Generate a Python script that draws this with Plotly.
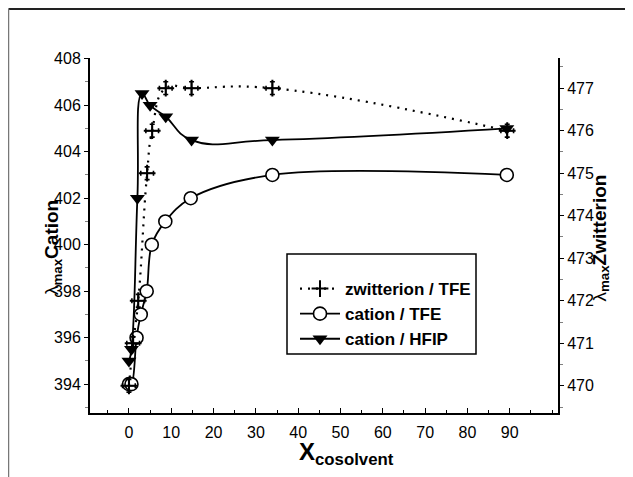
import plotly.graph_objects as go

# ---- data ----
zw_x = [0, 1.0, 2.2, 4.3, 5.5, 8.7, 14.8, 33.9, 89.4]
zw_y = [470.0, 471.0, 472.0, 475.0, 476.0, 477.0, 477.0, 477.0, 476.0]
zw_ex = [1.5] * len(zw_x)
zw_ey = [0.15] * len(zw_x)

tfe_x = [0, 0.6, 1.8, 2.8, 4.2, 5.4, 8.6, 14.6, 33.9, 89.3]
tfe_y = [394.0, 394.0, 396.0, 397.0, 398.0, 400.0, 401.0, 402.0, 403.0, 403.0]

hfip_x = [0, 0.6, 2.0, 3.1, 5.0, 8.7, 14.8, 33.9, 89.3]
hfip_y = [395.0, 395.5, 402.0, 406.5, 406.0, 405.5, 404.5, 404.5, 405.0]

x_ticks = [0, 10, 20, 30, 40, 50, 60, 70, 80, 90]
left_ticks = [394, 396, 398, 400, 402, 404, 406, 408]
right_ticks = [470, 471, 472, 473, 474, 475, 476, 477]

FONT = "Liberation Sans, Arial, sans-serif"

# page body has an 8px margin: work in figure coordinates = page coordinates - 8
OFF = 8
W, H = 633 - OFF, 477 - OFF
PL, PR, PT, PB = 90, 558, 58, 413  # plot area in page pixels
PW, PH = PR - PL, PB - PT


def px(x):
    return (x - PL) / PW


def py(y):
    return (PB - y) / PH


fig = go.Figure()

fig.add_trace(go.Scatter(
    x=zw_x, y=zw_y, yaxis="y2", name="<b>zwitterion / TFE</b>",
    mode="lines+markers", line=dict(color="black", width=2.2, dash="2px,6px", shape="spline", smoothing=1.3),
    marker=dict(symbol="cross-thin", size=12, line=dict(color="black", width=2)),
    error_x=dict(type="data", array=zw_ex, color="black", thickness=1.6, width=2.5),
    error_y=dict(type="data", array=zw_ey, color="black", thickness=1.6, width=2.5),
))

fig.add_trace(go.Scatter(
    x=tfe_x, y=tfe_y, name="<b>cation / TFE</b>",
    mode="lines+markers", line=dict(color="black", width=1.8, shape="spline", smoothing=1.0),
    marker=dict(symbol="circle", size=13, color="white", line=dict(color="black", width=1.6)),
))

fig.add_trace(go.Scatter(
    x=hfip_x, y=hfip_y, name="<b>cation / HFIP</b>",
    mode="lines+markers", line=dict(color="black", width=1.8, shape="spline", smoothing=1.3),
    marker=dict(symbol="triangle-down", size=13, color="black", line=dict(color="black", width=0)),
))

axis_common = dict(showgrid=False, zeroline=False, showline=True, linecolor="black", linewidth=2,
                   tickfont=dict(family=FONT, size=16, color="black"), tickcolor="black")

fig.update_layout(
    width=W, height=H,
    margin=dict(l=PL - OFF, r=W - (PR - OFF), t=PT - OFF, b=H - (PB - OFF), pad=0),
    paper_bgcolor="white", plot_bgcolor="white",
    font=dict(family=FONT, color="black"),
    showlegend=True,
    legend=dict(x=px(295), y=py(271), xanchor="left", yanchor="top",
                bgcolor="rgba(0,0,0,0)", borderwidth=0,
                font=dict(family=FONT, size=17, color="black"),
                tracegroupgap=0, itemwidth=40),
    xaxis=dict(axis_common, range=[-9.2, 101.4], tickvals=x_ticks, ticks="inside", ticklen=5, tickwidth=1,
               ticklabelstandoff=4,
               minor=dict(dtick=5, tick0=0, ticks="inside", ticklen=3, tickcolor="black")),
    yaxis=dict(axis_common, range=[392.76, 408.03], tickvals=left_ticks, ticks="outside", ticklen=4, tickwidth=1,
               minor=dict(dtick=1, tick0=394, ticks="outside", ticklen=3, tickcolor="gray")),
    yaxis2=dict(axis_common, range=[469.36, 477.71], tickvals=right_ticks, ticks="outside", ticklen=4, tickwidth=1,
                overlaying="y", side="right",
                minor=dict(dtick=0.5, tick0=470, ticks="outside", ticklen=3, tickcolor="gray")),
)

# legend frame
fig.add_shape(type="rect", xref="paper", yref="paper", x0=px(287), x1=px(476), y0=py(354), y1=py(254),
              line=dict(color="black", width=1.5), fillcolor="white", layer="below")

# axis titles as annotations (positioned like reference)
fig.add_annotation(xref="paper", yref="paper", x=px(346), y=py(471), showarrow=False,
                   text="<b>X<sub>cosolvent</sub></b>", font=dict(family=FONT, size=24, color="black"))
fig.add_annotation(xref="paper", yref="paper", x=px(39), y=py(248), showarrow=False, textangle=-90,
                   text="λ<b><sub>max</sub>Cation</b>", font=dict(family=FONT, size=19, color="black"))
fig.add_annotation(xref="paper", yref="paper", x=px(614), y=py(173), showarrow=False, textangle=-90,
                   text="λ<b><sub>max</sub>Zwitterion</b>", font=dict(family=FONT, size=19, color="black"))

# image frame lines (top and left)
fig.add_shape(type="line", xref="paper", yref="paper", x0=px(OFF + 0.5), x1=px(650),
              y0=py(9), y1=py(9), line=dict(color="#222", width=2))
fig.add_shape(type="line", xref="paper", yref="paper", x0=px(OFF + 0.5), x1=px(OFF + 0.5),
              y0=py(9), y1=py(490), line=dict(color="#777", width=1.5))

fig.write_html("out.html")
